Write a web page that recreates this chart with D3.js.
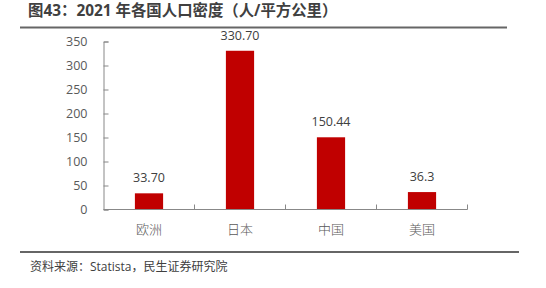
<!DOCTYPE html>
<html>
<head>
<meta charset="utf-8">
<script src="https://cdn.jsdelivr.net/npm/d3@7"></script>
<style>
  body { margin: 0; background: #fff; }
  text { font-family: "Open Sans", "Noto Sans CJK SC", sans-serif; }
</style>
</head>
<body>
<div id="chart"></div>
<script>
const categories = ["欧洲", "日本", "中国", "美国"];
const values = [33.70, 330.70, 150.44, 36.3];
const valueLabels = ["33.70", "330.70", "150.44", "36.3"];
const yTicks = [0, 50, 100, 150, 200, 250, 300, 350];

const width = 546, height = 288;

const svg = d3.select("#chart")
    .append("svg")
    .attr("width", width)
    .attr("height", height);

// title + rules
svg.append("text")
    .attr("x", 28)
    .attr("y", 16)
    .attr("font-family", "'Noto Sans CJK SC', sans-serif")
    .attr("font-size", 15.4)
    .attr("font-weight", "bold")
    .attr("fill", "#404040")
    .text("图43：2021 年各国人口密度（人/平方公里）");

svg.append("line")
    .attr("x1", 20).attr("x2", 507)
    .attr("y1", 27.5).attr("y2", 27.5)
    .attr("stroke", "#666").attr("stroke-width", 2);

svg.append("line")
    .attr("x1", 20).attr("x2", 519)
    .attr("y1", 252).attr("y2", 252)
    .attr("stroke", "#666").attr("stroke-width", 2);

svg.append("text")
    .attr("x", 30)
    .attr("y", 271)
    .attr("font-family", "'Noto Sans CJK SC', sans-serif")
    .attr("font-size", 12)
    .attr("fill", "#404040")
    .text("资料来源：Statista，民生证券研究院");

// scales
const x = d3.scaleBand()
    .domain(categories)
    .range([103.5, 467.5])
    .paddingInner(0.69)
    .paddingOuter(0.345);

const y = d3.scaleLinear()
    .domain([0, 350])
    .range([209.5, 41.5]);

const g = svg.append("g");

// y axis
const yAxis = g.append("g")
    .attr("transform", "translate(103.5,0)")
    .call(d3.axisLeft(y).tickValues(yTicks).tickSize(-5).tickPadding(16));
yAxis.selectAll("path, line").attr("stroke", "#888");
yAxis.selectAll("text")
    .attr("font-size", 12.5)
    .attr("fill", "#595959")
    .attr("font-family", "'Open Sans', sans-serif");

// bars
g.selectAll(".bar")
    .data(values)
    .enter().append("rect")
    .attr("class", "bar")
    .attr("x", (d, i) => x(categories[i]))
    .attr("width", x.bandwidth())
    .attr("y", d => y(d))
    .attr("height", d => y(0) - y(d))
    .attr("fill", "#C00000");

// x axis
const step = x.step();
const boundaries = d3.range(categories.length + 1).map(i => 103.5 + i * step);
const xg = g.append("g");
xg.append("line")
    .attr("x1", 103.5).attr("x2", 467.5)
    .attr("y1", 209.5).attr("y2", 209.5)
    .attr("stroke", "#888");
xg.selectAll(".xtick")
    .data(boundaries.slice(1))
    .enter().append("line")
    .attr("x1", d => d).attr("x2", d => d)
    .attr("y1", 209.5).attr("y2", 204.5)
    .attr("stroke", "#888");

xg.selectAll(".xlabel")
    .data(categories)
    .enter().append("text")
    .attr("x", d => x(d) + x.bandwidth() / 2)
    .attr("y", 234)
    .attr("text-anchor", "middle")
    .attr("font-family", "'Noto Sans CJK SC', sans-serif")
    .attr("font-weight", 300)
    .attr("font-size", 13)
    .attr("fill", "#595959")
    .text(d => d);

// value labels
g.selectAll(".vlabel")
    .data(values)
    .enter().append("text")
    .attr("x", (d, i) => x(categories[i]) + x.bandwidth() / 2)
    .attr("y", d => y(d) - 11)
    .attr("text-anchor", "middle")
    .attr("font-size", 12.5)
    .attr("fill", "#404040")
    .attr("font-family", "'Open Sans', sans-serif")
    .text((d, i) => valueLabels[i]);
</script>
</body>
</html>
